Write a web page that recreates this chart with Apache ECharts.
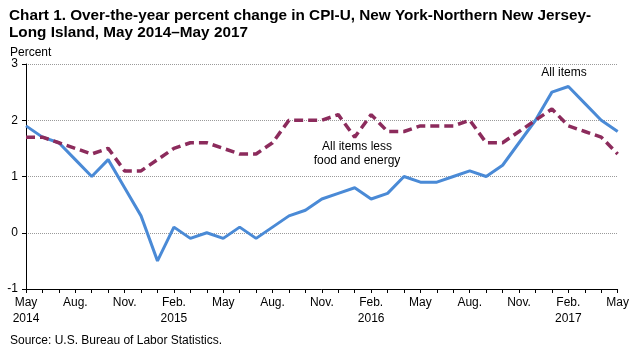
<!DOCTYPE html>
<html>
<head>
<meta charset="utf-8">
<script src="https://cdn.jsdelivr.net/npm/echarts@6/dist/echarts.min.js"></script>
<style>
  html, body { margin: 0; padding: 0; background: #fff; }
  #chart { width: 632px; height: 344px; }
</style>
</head>
<body>
<div id="chart"></div>
<script>
// Monthly periods, May 2014 through May 2017
const months = [
  'May 2014','Jun 2014','Jul 2014','Aug 2014','Sep 2014','Oct 2014','Nov 2014','Dec 2014',
  'Jan 2015','Feb 2015','Mar 2015','Apr 2015','May 2015','Jun 2015','Jul 2015','Aug 2015',
  'Sep 2015','Oct 2015','Nov 2015','Dec 2015','Jan 2016','Feb 2016','Mar 2016','Apr 2016',
  'May 2016','Jun 2016','Jul 2016','Aug 2016','Sep 2016','Oct 2016','Nov 2016','Dec 2016',
  'Jan 2017','Feb 2017','Mar 2017','Apr 2017','May 2017'
];

// Tick labels shown every third month
const tickLabels = {
  0: 'May\n2014', 3: 'Aug.', 6: 'Nov.', 9: 'Feb.\n2015', 12: 'May', 15: 'Aug.',
  18: 'Nov.', 21: 'Feb.\n2016', 24: 'May', 27: 'Aug.', 30: 'Nov.', 33: 'Feb.\n2017', 36: 'May'
};

// Over-the-year percent change, all items
const allItems = [
  1.9, 1.7, 1.6, 1.3, 1.0, 1.3, 0.8, 0.3,
  -0.5, 0.1, -0.1, 0.0, -0.1, 0.1, -0.1, 0.1,
  0.3, 0.4, 0.6, 0.7, 0.8, 0.6, 0.7, 1.0,
  0.9, 0.9, 1.0, 1.1, 1.0, 1.2, 1.6, 2.0,
  2.5, 2.6, 2.3, 2.0, 1.8
];

// Over-the-year percent change, all items less food and energy
const coreItems = [
  1.7, 1.7, 1.6, 1.5, 1.4, 1.5, 1.1, 1.1,
  1.3, 1.5, 1.6, 1.6, 1.5, 1.4, 1.4, 1.6,
  2.0, 2.0, 2.0, 2.1, 1.7, 2.1, 1.8, 1.8,
  1.9, 1.9, 1.9, 2.0, 1.6, 1.6, 1.8, 2.0,
  2.2, 1.9, 1.8, 1.7, 1.4
];

const FONT = '"Liberation Sans", Arial, sans-serif';

const chart = echarts.init(document.getElementById('chart'), null, { renderer: 'canvas' });

chart.setOption({
  animation: false,
  backgroundColor: '#fff',
  title: [
    {
      text: 'Chart 1. Over-the-year percent change in CPI-U, New York-Northern New Jersey-\nLong Island, May 2014\u2013May 2017',
      left: 4, top: 2,
      textStyle: { fontFamily: FONT, fontSize: 15.3, fontWeight: 'bold', color: '#000', lineHeight: 17 }
    },
    {
      text: 'Percent',
      left: 5, top: 42,
      textStyle: { fontFamily: FONT, fontSize: 12, fontWeight: 'normal', color: '#000' }
    },
    {
      text: 'Source: U.S. Bureau of Labor Statistics.',
      left: 5, top: 330,
      textStyle: { fontFamily: FONT, fontSize: 12, fontWeight: 'normal', color: '#000' }
    }
  ],
  grid: { left: 26, right: 13, top: 64, bottom: 55, containLabel: false },
  xAxis: {
    type: 'category',
    data: months,
    boundaryGap: false,
    axisLine: { onZero: false, lineStyle: { color: '#000', width: 1 } },
    axisTick: { show: true, interval: 0, length: 4, lineStyle: { color: '#000' } },
    axisLabel: {
      interval: 0,
      margin: 6,
      fontFamily: FONT, fontSize: 12, color: '#000', lineHeight: 16,
      formatter: (v, i) => tickLabels[i] !== undefined ? tickLabels[i] : ''
    },
    splitLine: { show: false }
  },
  yAxis: {
    type: 'value',
    min: -1, max: 3, interval: 1,
    axisLine: { show: true, lineStyle: { color: '#000', width: 1 } },
    axisTick: { show: true, length: 4, lineStyle: { color: '#000' } },
    axisLabel: { fontFamily: FONT, fontSize: 12, color: '#000', margin: 8 },
    splitLine: {
      show: true,
      lineStyle: { color: '#9a9a9a', type: [1, 1], width: 1 }
    }
  },
  series: [
    {
      name: 'All items',
      type: 'line',
      data: allItems,
      symbol: 'none',
      lineStyle: { color: '#4a8ad6', width: 3 },
      z: 2
    },
    {
      name: 'All items less food and energy',
      type: 'line',
      data: coreItems,
      symbol: 'none',
      lineStyle: { color: '#8c2b5c', width: 3.5, type: [9, 5] },
      z: 3
    }
  ],
  graphic: [
    {
      type: 'text', x: 564, y: 73,
      style: {
        text: 'All items', font: '12px ' + FONT, fill: '#000',
        align: 'center', textAlign: 'center', verticalAlign: 'middle', textVerticalAlign: 'middle'
      }
    },
    {
      type: 'text', x: 357, y: 154,
      style: {
        text: 'All items less\nfood and energy', font: '12px ' + FONT, fill: '#000', lineHeight: 14,
        align: 'center', textAlign: 'center', verticalAlign: 'middle', textVerticalAlign: 'middle'
      }
    }
  ]
});
</script>
</body>
</html>
